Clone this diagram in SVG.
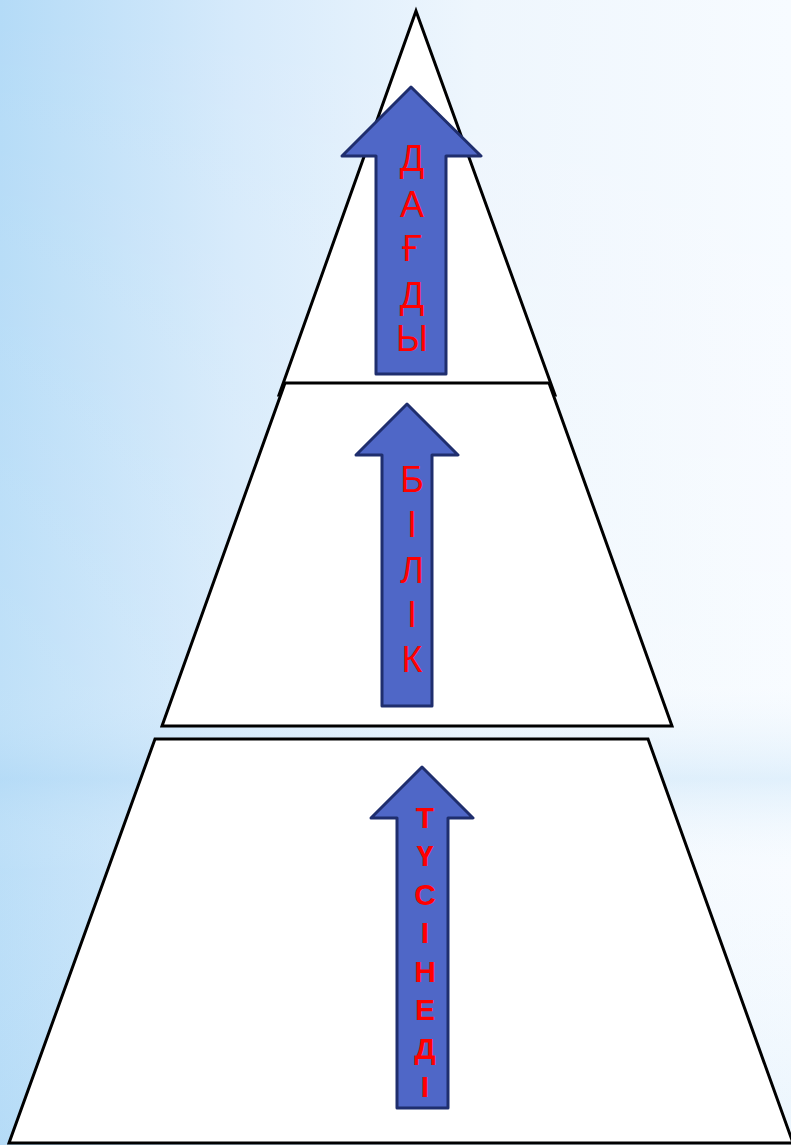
<svg xmlns="http://www.w3.org/2000/svg" width="791" height="1145" viewBox="0 0 791 1145">
<defs>
<linearGradient id="bg" x1="0" y1="0" x2="1" y2="0">
<stop offset="0" stop-color="#b4dbf7"/>
<stop offset="0.3" stop-color="#d6eafb"/>
<stop offset="0.6" stop-color="#eef6fd"/>
<stop offset="1" stop-color="#f7fbff"/>
</linearGradient>
<linearGradient id="bands" x1="0" y1="0" x2="0" y2="1">
<stop offset="0" stop-color="#ffffff" stop-opacity="0"/>
<stop offset="0.6" stop-color="#ffffff" stop-opacity="0.15"/>
<stop offset="0.68" stop-color="#b8dcf6" stop-opacity="0.35"/>
<stop offset="0.76" stop-color="#ffffff" stop-opacity="0.1"/>
<stop offset="1" stop-color="#b8dcf6" stop-opacity="0.2"/>
</linearGradient>
</defs>
<style>
.tier{fill:#ffffff;stroke:#000000;stroke-width:3;stroke-linejoin:miter}
.arrow{fill:#4f67c7;stroke:#1f2e6e;stroke-width:3;stroke-linejoin:round}
.lbl{font-family:"Liberation Sans",Arial,sans-serif;font-size:36px;fill:#ff0000;text-anchor:middle}
.lblb{font-family:"Liberation Sans",Arial,sans-serif;font-size:30px;font-weight:bold;fill:#ff0000;text-anchor:middle}
</style>
<rect x="0" y="0" width="791" height="1145" fill="url(#bg)"/>
<rect x="0" y="0" width="791" height="1145" fill="url(#bands)"/>
<g id="tier-top">
<polygon class="tier" points="416,11 555,395 279,395"/>
</g>
<g id="tier-middle">
<polygon class="tier" points="285,383 549,383 672,726 162,726"/>
</g>
<g id="tier-bottom">
<polygon class="tier" points="155,739 648,739 793,1143 9,1143"/>
</g>
<g id="connectors">
<g id="arrow-dagdy">
<polygon class="arrow" points="411,87 481,156 446,156 446,374 376,374 376,156 342,156"/>
<text class="lbl" x="412" y="171">Д</text>
<text class="lbl" x="412" y="217">А</text>
<text class="lbl" x="412" y="261">Ғ</text>
<text class="lbl" x="412" y="308">Д</text>
<text class="lbl" x="412" y="351">Ы</text>
</g>
<g id="arrow-bilik">
<polygon class="arrow" points="407,404 458,455 432,455 432,706 382,706 382,455 356,455"/>
<text class="lbl" x="412" y="492">Б</text>
<text class="lbl" x="412" y="537">І</text>
<text class="lbl" x="412" y="583">Л</text>
<text class="lbl" x="412" y="627">І</text>
<text class="lbl" x="412" y="672">К</text>
</g>
<g id="arrow-tusinedi">
<polygon class="arrow" points="422,767 473,818 448,818 448,1108 397,1108 397,818 371,818"/>
<text class="lblb" x="425" y="828">Т</text>
<text class="lblb" x="425" y="866">Ү</text>
<text class="lblb" x="425" y="905">С</text>
<text class="lblb" x="425" y="943">І</text>
<text class="lblb" x="425" y="982">Н</text>
<text class="lblb" x="425" y="1020">Е</text>
<text class="lblb" x="425" y="1059">Д</text>
<text class="lblb" x="425" y="1097">І</text>
</g>
</g>
</svg>
